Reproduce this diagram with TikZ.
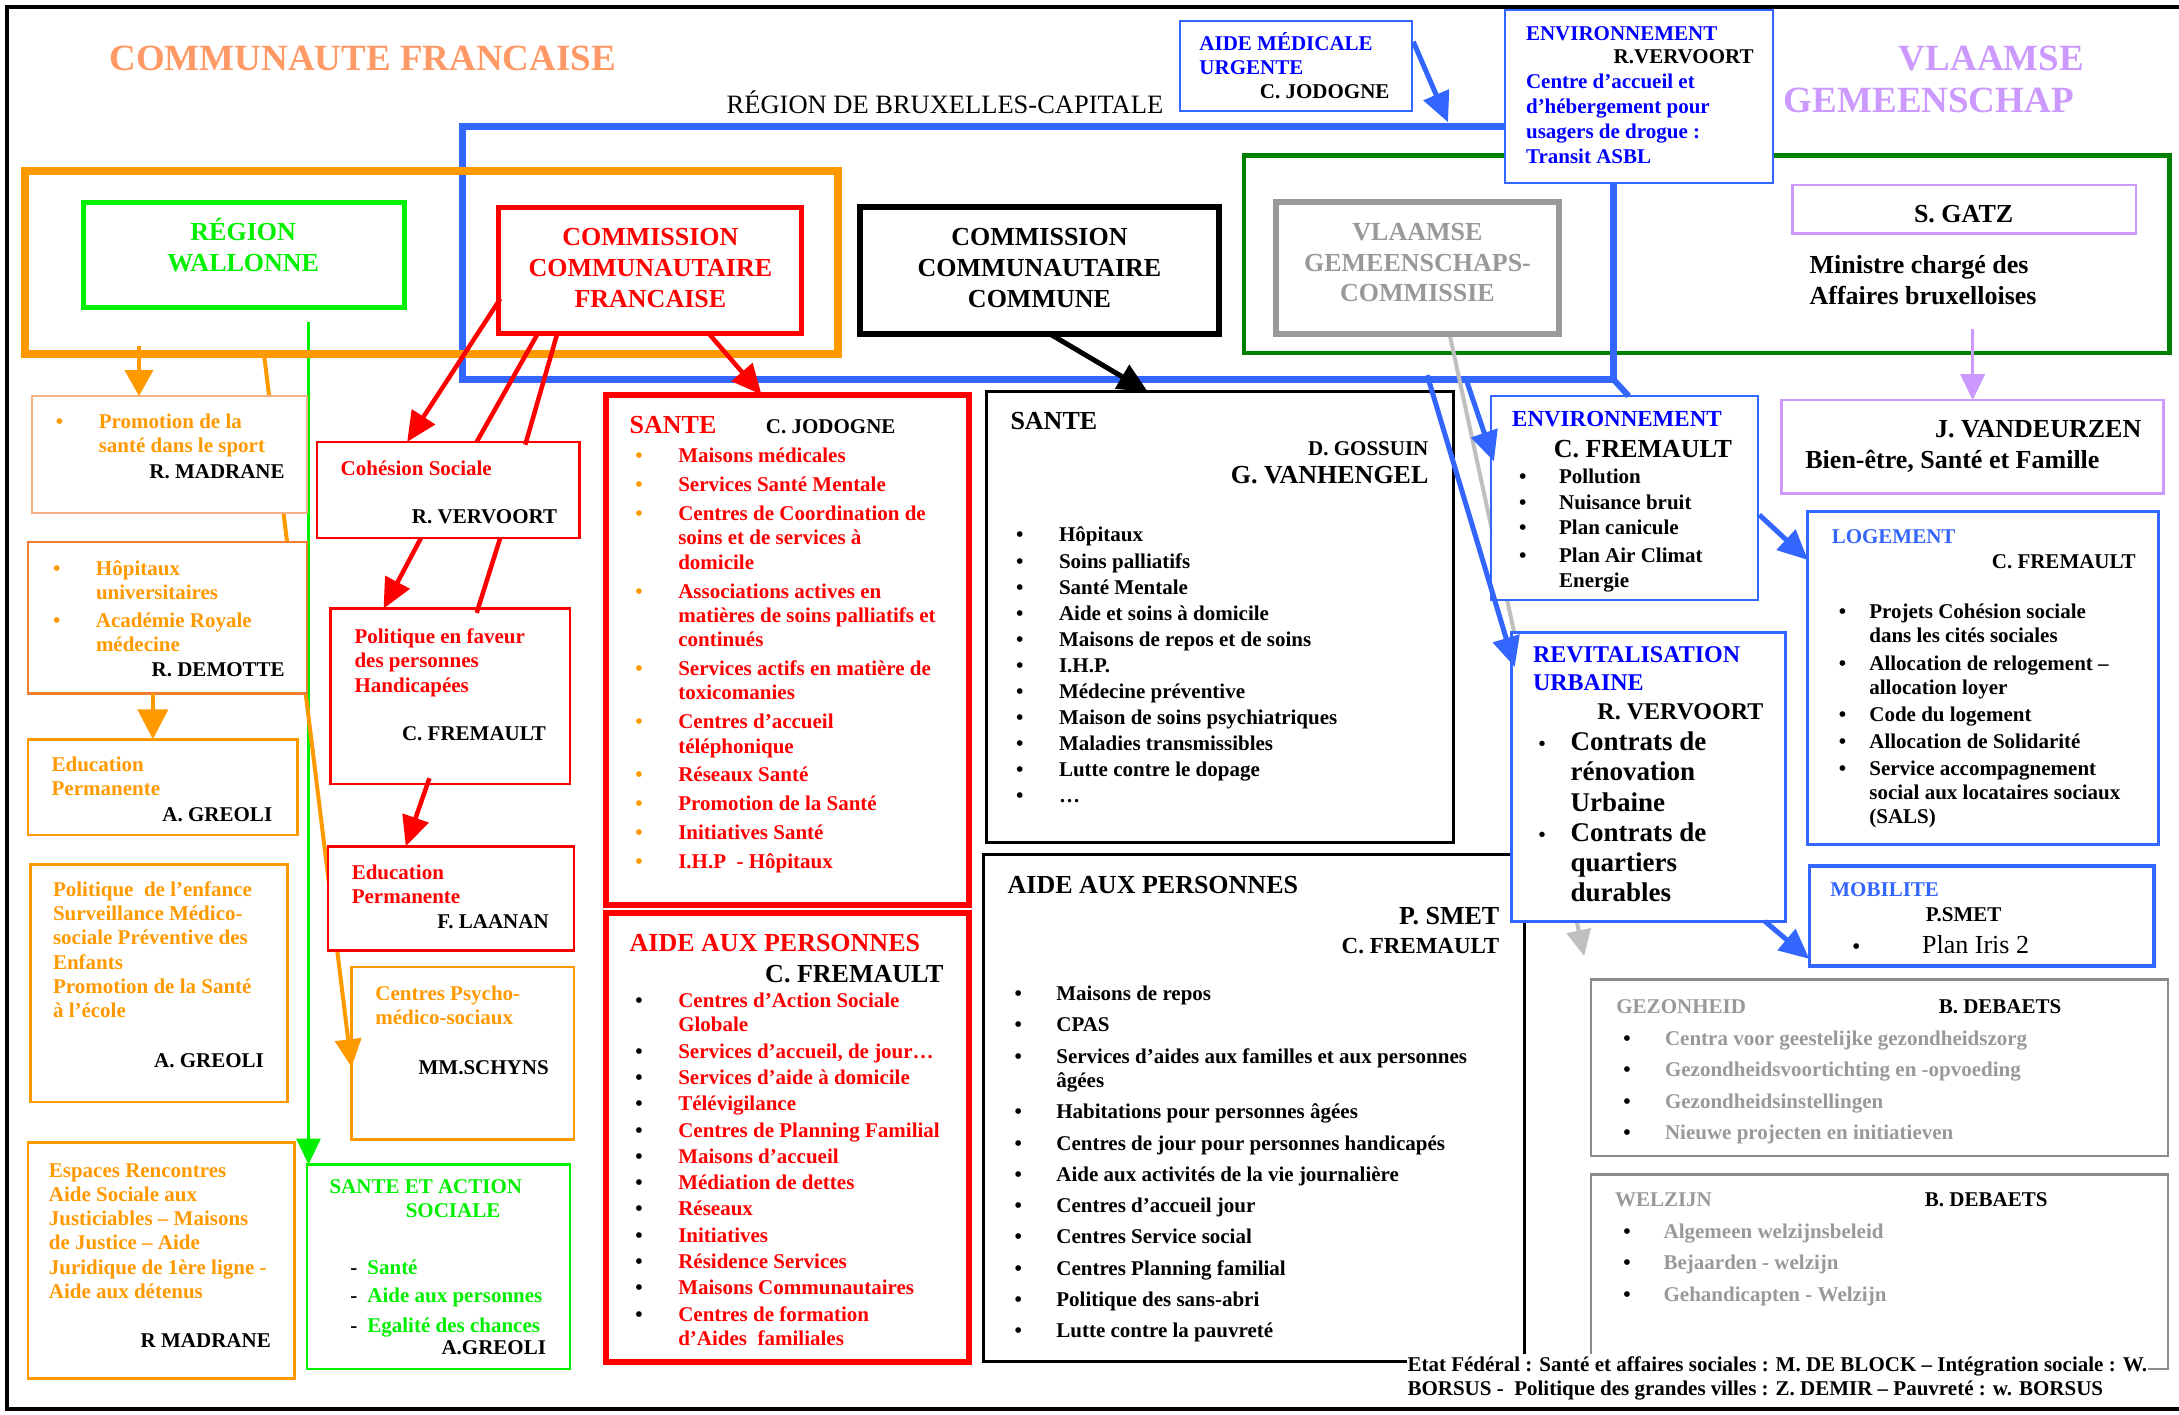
\documentclass[tikz,border=0pt]{standalone}
\usepackage{fontspec}
\setmainfont{Liberation Serif}
\usetikzlibrary{arrows.meta,fit,calc}
\definecolor{cfor}{HTML}{FF9966}
\definecolor{orng}{HTML}{FF9900}
\definecolor{salm}{HTML}{F4B183}
\definecolor{dorng}{HTML}{ED7D31}
\definecolor{rd}{HTML}{FF0000}
\definecolor{grn}{HTML}{00F000}
\definecolor{dgrn}{HTML}{008000}
\definecolor{bl}{HTML}{3366FF}
\definecolor{btxt}{HTML}{0000FF}
\definecolor{lav}{HTML}{CC99FF}
\definecolor{gry}{HTML}{999999}
\definecolor{gry2}{HTML}{8C8C8C}
\definecolor{lgry}{HTML}{BFBFBF}
\newcommand\fa{\fontsize{21}{24.3}\selectfont\bfseries}
\newcommand\fb{\fontsize{26}{30.6}\selectfont\bfseries}
\newcommand\ml[1]{\begin{tabular}[t]{@{}l@{}}#1\end{tabular}}
\newcommand\ob{\textcolor{orng}{\textbullet}}
\newcommand\bb{\textcolor{black}{\textbullet}}
\begin{document}
\begin{tikzpicture}[x=1.3897pt,y=-1.3897pt,
  box/.style={draw, fill=white, inner sep=0pt, outer sep=0pt},
  region/.style={draw, inner sep=0pt, outer sep=0pt},
  tx/.style={inner sep=0pt, anchor=base west, font=\fa},
  txr/.style={inner sep=0pt, anchor=base east, font=\fa},
  txc/.style={inner sep=0pt, anchor=base, font=\fa},
  bighead/.style={-{Triangle[length=30pt,width=27pt]}},
  midhead/.style={-{Triangle[length=26pt,width=24pt]}},
  redc/.style={draw=rd, line width=4.5pt},
  bluec/.style={draw=bl, line width=5pt},
]
\useasboundingbox (0,0) rectangle (1568,1018);
\fill[white] (0,0) rectangle (1568,1018);
% outer frame
\draw[line width=4pt] (1568,5) -- (5,5) -- (5,1014) -- (1568,1014);

% titles
\node[inner sep=0pt, anchor=base, font=\fontsize{37}{40}\selectfont\bfseries, text=cfor] (tcf) at (261,51) {COMMUNAUTE FRANCAISE};
\node[inner sep=0pt, anchor=base, font=\fontsize{37}{40}\selectfont\bfseries, text=lav] (tvl1) at (1433,51) {VLAAMSE};
\node[inner sep=0pt, anchor=base, font=\fontsize{37}{40}\selectfont\bfseries, text=lav] (tvl2) at (1388,81) {GEMEENSCHAP};
\node[inner sep=0pt, anchor=base, font=\fontsize{26.5}{30}\selectfont] (tbrx) at (680,82) {RÉGION DE BRUXELLES-CAPITALE};

% regions
\node[region, draw=dgrn, line width=4.5pt, fit={(895,112) (1561,254)}] (vg) {};
\node[region, draw=bl, line width=7pt, fit={(333,91) (1161,273)}] (brx) {};
\node[region, draw=none, fit={(60,146) (291,221)}] (rwpos) {};
\draw[draw=grn, line width=3pt, midhead] ($(rwpos.south west)+(162,11)$) -- (222,838);
\node[region, draw=orng, line width=8pt, fit={(18,123) (603,255)}] (cfr) {};

% connectors drawn behind boxes
\draw[draw=orng, line width=4pt] ($(cfr.south west)+(172,0)$) -- (249.3,738);
\draw[draw=lgry, line width=4pt, midhead] ($(cfr.south east)+(440,-15)$) -- (1140,688);

% ----- boxes -----
\node[box, draw=grn, line width=5pt, fit={(60,146) (291,221)}] (rw) {};
\node[inner sep=0pt, anchor=base, font=\fb, text=grn] (rwt) at (175,173) {\begin{tabular}[t]{@{}c@{}}RÉGION\\WALLONNE\end{tabular}};
\node[box, draw=rd, line width=5pt, fit={(359,149) (577,240)}] (ccf) {};
\node[inner sep=0pt, anchor=base, font=\fb, text=rd] (ccft) at (468,177) {\begin{tabular}[t]{@{}c@{}}COMMISSION\\COMMUNAUTAIRE\\FRANCAISE\end{tabular}};
\node[box, draw=black, line width=6pt, fit={(619,149) (877,240)}] (ccc) {};
\node[inner sep=0pt, anchor=base, font=\fb] (ccct) at (748,177) {\begin{tabular}[t]{@{}c@{}}COMMISSION\\COMMUNAUTAIRE\\COMMUNE\end{tabular}};
\node[box, draw=gry, line width=6pt, fit={(918,145) (1122,240)}] (vgc) {};
\node[inner sep=0pt, anchor=base, font=\fb, text=gry] (vgct) at (1020,173) {\begin{tabular}[t]{@{}c@{}}VLAAMSE\\GEMEENSCHAPS-\\COMMISSIE\end{tabular}};

% left column
\node[box, draw=salm, line width=2.5pt, fit={(23,285) (221,369)}] (promo) {};
\node[tx, text=orng] (promot) at (40,308) {\begin{tabular}[t]{@{}p{43pt}@{}l@{}}\textbullet & Promotion de la\\ & santé dans le sport\end{tabular}};
\node[txr] (promon) at (205,344) {R. MADRANE};
\node[box, draw=dorng, line width=2.5pt, fit={(20,390) (221,499)}] (hop) {};
\node[tx, text=orng] (hopt) at (38,414) {\begin{tabular}[t]{@{}p{43pt}@{}l@{}}\textbullet & Hôpitaux\\ & universitaires\\[3.5pt] \textbullet & Académie Royale\\ & médecine\end{tabular}};
\node[txr] (hopn) at (205,487) {R. DEMOTTE};
\node[box, draw=orng, line width=2.5pt, fit={(20,532) (214,601)}] (edua) {};
\node[tx, text=orng] (eduat) at (37,555) {\ml{Education\\Permanente}};
\node[txr] (eduan) at (196,591) {A. GREOLI};
\node[box, draw=orng, line width=2.5pt, fit={(22,622) (207,793)}] (enf) {};
\node[tx, text=orng] (enft) at (38,645) {\ml{Politique\ \ de l’enfance\\Surveillance Médico-\\sociale Préventive des\\Enfants\\Promotion de la Santé\\à l’école}};
\node[txr] (enfn) at (190,768) {A. GREOLI};
\node[box, draw=orng, line width=2.5pt, fit={(20,822) (212,992)}] (esp) {};
\node[tx, text=orng] (espt) at (35,847) {\ml{Espaces Rencontres\\Aide Sociale aux\\Justiciables – Maisons\\de Justice – Aide\\Juridique de 1ère ligne -\\Aide aux détenus}};
\node[txr] (espn) at (195,970) {R MADRANE};

% middle column
\node[box, draw=rd, line width=2.5pt, fit={(228,318) (417,387)}] (cohesion) {};
\node[tx, text=rd] (cohesiont) at (245,342) {Cohésion Sociale};
\node[txr] (cohesionn) at (401,377) {R. VERVOORT};
\node[box, draw=rd, line width=2.5pt, fit={(238,438) (410,564)}] (politique) {};
\node[tx, text=rd] (politiquet) at (255,463) {\ml{Politique en faveur\\des personnes\\Handicapées}};
\node[txr] (politiquen) at (393,533) {C. FREMAULT};
\node[box, draw=rd, line width=2.5pt, fit={(236,609) (413,684)}] (eduf) {};
\node[tx, text=rd] (eduft) at (253,633) {\ml{Education\\Permanente}};
\node[txr] (edufn) at (395,668) {F. LAANAN};
\node[box, draw=orng, line width=2.5pt, fit={(253,696) (413,820)}] (psycho) {};
\node[tx, text=orng] (psychot) at (270,720) {\ml{Centres Psycho-\\médico-sociaux}};
\node[txr] (psychon) at (395,773) {MM.SCHYNS};
\node[box, draw=grn, line width=2.5pt, fit={(221,838) (410,985)}] (sas) {};
\node[tx, text=grn] (sast1) at (237,859) {SANTE ET ACTION};
\node[txc, text=grn] (sast2) at (326,876) {SOCIALE};
\node[tx, text=grn] (sast3) at (252,917) {\begin{tabular}[t]{@{}p{17pt}@{}l@{}}\textcolor{black}{-} & Santé\\[3.5pt] \textcolor{black}{-} & Aide aux personnes\\[6pt] \textcolor{black}{-} & Egalité des chances\end{tabular}};
\node[txr] (sasn) at (393,975) {A.GREOLI};

% red SANTE
\node[box, draw=rd, line width=6pt, fit={(436,284) (697,651)}] (santer) {};
\node[tx, font=\fb, text=rd] (santerh) at (453,312) {SANTE};
\node[tx] (santern) at (551,312) {C. JODOGNE};
\node[tx, text=rd] (santert) at (457,333) {\begin{tabular}[t]{@{}p{43pt}@{}l@{}}
\ob & Maisons médicales\\[4.6pt]
\ob & Services Santé Mentale\\[4.6pt]
\ob & Centres de Coordination de\\ & soins et de services à\\ & domicile\\[4.6pt]
\ob & Associations actives en\\ & matières de soins palliatifs et\\ & continués\\[4.6pt]
\ob & Services actifs en matière de\\ & toxicomanies\\[4.6pt]
\ob & Centres d’accueil\\ & téléphonique\\[4.6pt]
\ob & Réseaux Santé\\[4.6pt]
\ob & Promotion de la Santé\\[4.6pt]
\ob & Initiatives Santé\\[4.6pt]
\ob & I.H.P\ \ - Hôpitaux
\end{tabular}};

% red AIDE
\node[box, draw=rd, line width=6pt, fit={(436,657) (697,980)}] (aider) {};
\node[tx, font=\fb, text=rd] (aiderh) at (453,685) {AIDE AUX PERSONNES};
\node[txr, font=\fb] (aidern) at (679,707) {C. FREMAULT};
\node[tx, text=rd] (aidert) at (457,725) {\begin{tabular}[t]{@{}p{43pt}@{}l@{}}
\bb & Centres d’Action Sociale\\ & Globale\\[2pt]
\bb & Services d’accueil, de jour…\\[2pt]
\bb & Services d’aide à domicile\\[2pt]
\bb & Télévigilance\\[2pt]
\bb & Centres de Planning Familial\\[2pt]
\bb & Maisons d’accueil\\[2pt]
\bb & Médiation de dettes\\[2pt]
\bb & Réseaux\\[2pt]
\bb & Initiatives\\[2pt]
\bb & Résidence Services\\[2pt]
\bb & Maisons Communautaires\\[2pt]
\bb & Centres de formation\\ & d’Aides\ \ familiales
\end{tabular}};

% black SANTE
\node[box, draw=black, line width=3pt, fit={(710,282) (1046,606)}] (santeb) {};
\node[tx, font=\fb] (santebh) at (727,309) {SANTE};
\node[txr] (santebn1) at (1028,328) {D. GOSSUIN};
\node[txr, font=\fb] (santebn2) at (1028,348) {G. VANHENGEL};
\node[tx] (santebt) at (731,390) {\begin{tabular}[t]{@{}p{43pt}@{}l@{}}
\textbullet & Hôpitaux\\[1.8pt]
\textbullet & Soins palliatifs\\[1.8pt]
\textbullet & Santé Mentale\\[1.8pt]
\textbullet & Aide et soins à domicile\\[1.8pt]
\textbullet & Maisons de repos et de soins\\[1.8pt]
\textbullet & I.H.P.\\[1.8pt]
\textbullet & Médecine préventive\\[1.8pt]
\textbullet & Maison de soins psychiatriques\\[1.8pt]
\textbullet & Maladies transmissibles\\[1.8pt]
\textbullet & Lutte contre le dopage\\[1.8pt]
\textbullet & …
\end{tabular}};

% black AIDE
\node[box, draw=black, line width=3pt, fit={(708,615) (1097,980)}] (aideb) {};
\node[tx, font=\fb] (aidebh) at (725,643) {AIDE AUX PERSONNES};
\node[txr, font=\fb] (aidebn1) at (1079,665) {P. SMET};
\node[txr, font=\fontsize{23}{27}\selectfont\bfseries] (aidebn2) at (1079,686) {C. FREMAULT};
\node[tx] (aidebt) at (730,720) {\begin{tabular}[t]{@{}p{41.7pt}@{}l@{}}
\textbullet & Maisons de repos\\[7pt]
\textbullet & CPAS\\[7pt]
\textbullet & Services d’aides aux familles et aux personnes\\ & âgées\\[7pt]
\textbullet & Habitations pour personnes âgées\\[7pt]
\textbullet & Centres de jour pour personnes handicapés\\[7pt]
\textbullet & Aide aux activités de la vie journalière\\[7pt]
\textbullet & Centres d’accueil jour\\[7pt]
\textbullet & Centres Service social\\[7pt]
\textbullet & Centres Planning familial\\[7pt]
\textbullet & Politique des sans-abri\\[7pt]
\textbullet & Lutte contre la pauvreté
\end{tabular}};

% top blue boxes
\node[box, draw=bl, line width=2pt, fit={(849,15) (1016,80)}] (amu) {};
\node[tx, text=btxt] (amut) at (863,36) {\ml{AIDE MÉDICALE\\URGENTE}};
\node[txr] (amun) at (1000,71) {C. JODOGNE};
\node[box, draw=bl, line width=2pt, fit={(1083,7) (1276,132)}] (env1) {};
\node[tx, text=btxt] (env1h) at (1098,29) {ENVIRONNEMENT};
\node[txr] (env1n) at (1262,46) {R.VERVOORT};
\node[tx, text=btxt] (env1t) at (1098,64) {\ml{Centre d’accueil et\\[0.7pt]d’hébergement pour\\[0.7pt]usagers de drogue :\\[0.7pt]Transit ASBL}};

% Vlaamse side
\node[box, draw=lav, line width=2.5pt, fit={(1290,133) (1537,168)}] (gatz) {};
\node[txc, font=\fb] (gatzt) at (1413,160) {S. GATZ};
\node[tx, font=\fb] (gatzm) at (1302,197) {\ml{Ministre chargé des\\Affaires bruxelloises}};
\node[box, draw=lav, line width=2.5pt, fit={(1282,288) (1557,355)}] (vand) {};
\node[txr, font=\fb] (vandn) at (1541,315) {J. VANDEURZEN};
\node[tx, font=\fb] (vandt) at (1299,337) {Bien-être, Santé et Famille};

% Environnement / revitalisation
\node[box, draw=bl, line width=2pt, fit={(1073,285) (1265,432)}] (env2) {};
\node[tx, font=\fontsize{23}{27}\selectfont\bfseries, text=btxt] (env2h) at (1088,307) {ENVIRONNEMENT};
\node[tx, font=\fb] (env2n) at (1118,329) {C. FREMAULT};
\node[tx] (env2t) at (1093,348) {\begin{tabular}[t]{@{}p{40pt}@{}l@{}}
\textbullet & Pollution\\[2pt]
\textbullet & Nuisance bruit\\[0.7pt]
\textbullet & Plan canicule\\[3.5pt]
\textbullet & Plan Air Climat\\ & Energie
\end{tabular}};
\node[box, draw=bl, line width=3pt, fit={(1088,455) (1285,663)}] (revit) {};
\node[tx, font=\fontsize{24}{28}\selectfont\bfseries, text=btxt] (revith) at (1103,477) {\ml{REVITALISATION\\URBAINE}};
\node[txr, font=\fontsize{24}{28}\selectfont\bfseries] (revitn) at (1269,518) {R. VERVOORT};
\node[tx, font=\fontsize{27}{30.3}\selectfont\bfseries] (revitt) at (1107,540) {\begin{tabular}[t]{@{}p{32pt}@{}l@{}}
{\fontsize{20}{20}\selectfont\textbullet} & Contrats de\\ & rénovation\\ & Urbaine\\
{\fontsize{20}{20}\selectfont\textbullet} & Contrats de\\ & quartiers\\ & durables
\end{tabular}};

% Logement / mobilite
\node[box, draw=bl, line width=3pt, fit={(1301,368) (1553,608)}] (logement) {};
\node[tx, text=bl] (logementh) at (1318,391) {LOGEMENT};
\node[txr] (logementn) at (1537,409) {C. FREMAULT};
\node[tx] (logementt) at (1323,445) {\begin{tabular}[t]{@{}p{30.6pt}@{}l@{}}
\textbullet & Projets Cohésion sociale\\ & dans les cités sociales\\[3.5pt]
\textbullet & Allocation de relogement –\\ & allocation loyer\\[2.5pt]
\textbullet & Code du logement\\[2.5pt]
\textbullet & Allocation de Solidarité\\[2.5pt]
\textbullet & Service accompagnement\\ & social aux locataires sociaux\\ & (SALS)
\end{tabular}};
\node[box, draw=bl, line width=3.5pt, fit={(1302,623) (1550,695)}] (mobilite) {};
\node[tx, text=bl] (mobiliteh) at (1317,645) {MOBILITE};
\node[txc] (mobiliten) at (1413,663) {P.SMET};
\node[tx] (mobilitet) at (1333,686) {\begin{tabular}[t]{@{}p{69.5pt}@{}l@{}}\textbullet & {\fontsize{26}{30}\selectfont\mdseries Plan Iris 2}\end{tabular}};

% Gezondheid / Welzijn
\node[box, draw=gry2, line width=2.5pt, fit={(1145,705) (1560,832)}] (gez) {};
\node[tx, text=gry] (gezh) at (1163,729) {GEZONHEID};
\node[tx] (gezn) at (1395,729) {B. DEBAETS};
\node[tx, text=gry] (gezt) at (1168,752) {\begin{tabular}[t]{@{}p{41.7pt}@{}l@{}}
\bb & Centra voor geestelijke gezondheidszorg\\[7.2pt]
\bb & Gezondheidsvoortichting en -opvoeding\\[7.2pt]
\bb & Gezondheidsinstellingen\\[7.2pt]
\bb & Nieuwe projecten en initiatieven
\end{tabular}};
\node[box, draw=gry2, line width=2.5pt, fit={(1145,845) (1560,985)}] (welz) {};
\node[tx, text=gry] (welzh) at (1162,868) {WELZIJN};
\node[tx] (welzn) at (1385,868) {B. DEBAETS};
\node[tx, text=gry] (welzt) at (1168,891) {\begin{tabular}[t]{@{}p{40.3pt}@{}l@{}}
\bb & Algemeen welzijnsbeleid\\[7.2pt]
\bb & Bejaarden - welzijn\\[7.2pt]
\bb & Gehandicapten - Welzijn
\end{tabular}};

% federal note
\node[tx, fill=white, inner sep=1pt] (etat) at (1012,987) {\ml{Etat Fédéral : Santé et affaires sociales : M. DE BLOCK – Intégration sociale : W.\\[-0.7pt]BORSUS -\ \ Politique des grandes villes : Z. DEMIR – Pauvreté : w. BORSUS}};

% ----- connectors on top -----
\draw[draw=orng, line width=4pt, -{Triangle[length=26pt,width=28pt]}] ($(cfr.south west)+(82,-6)$) -- ($(promo.north west)+(77,0)$);
\draw[draw=orng, line width=4pt, -{Triangle[length=28pt,width=26pt]}] ($(psycho.north west)+(-3.7,42)$) -- ($(psycho.north west)+(0,72)$);
\draw[draw=orng, line width=4.5pt, -{Triangle[length=30pt,width=30pt]}] ($(hop.south west)+(90,0)$) -- ($(edua.north west)+(90,0)$);

\draw[redc, bighead] ($(ccf.south west)+(1,-25)$) -- ($(cohesion.north west)+(65,0)$);
\draw[redc] ($(ccf.south west)+(28,0)$) -- ($(cohesion.north west)+(115,0)$);
\draw[redc] ($(ccf.south west)+(42,0)$) -- ($(cohesion.north west)+(150,2)$);
\draw[redc, bighead] ($(cohesion.south west)+(75,0)$) -- ($(politique.north west)+(38,0)$);
\draw[redc] ($(cohesion.south west)+(132,0)$) -- ($(politique.north west)+(105,3)$);
\draw[redc, bighead] ($(politique.south west)+(71,-4)$) -- ($(eduf.north west)+(56,0)$);
\draw[redc, bighead] ($(ccf.south west)+(151,0)$) -- ($(santer.north west)+(112,0)$);

\draw[draw=black, line width=5pt, bighead] ($(ccc.south west)+(136,0)$) -- ($(santeb.north west)+(116,0)$);

\draw[bluec, bighead] ($(amu.north east)+(1,15)$) -- ($(brx.north west)+(709,-3)$);
\draw[draw=bl, line width=6pt] (brx.south east) -- ($(env2.north west)+(99,0)$);
\draw[bluec, bighead] ($(brx.south west)+(722,0)$) -- ($(env2.north west)+(2,47)$);
\draw[bluec, bighead] ($(brx.south west)+(694,-3)$) -- ($(revit.north west)+(2,25)$);
\draw[bluec, bighead] ($(env2.east)+(1,12)$) -- ($(logement.north west)+(0,35)$);
\draw[bluec, bighead] ($(revit.south east)+(-15,0)$) -- ($(mobilite.south west)+(0,-5)$);

\draw[draw=lav, line width=3.5pt, midhead] ($(gatz.south)+(6,69)$) -- ($(vand.north west)+(137.5,0)$);
\end{tikzpicture}
\end{document}
